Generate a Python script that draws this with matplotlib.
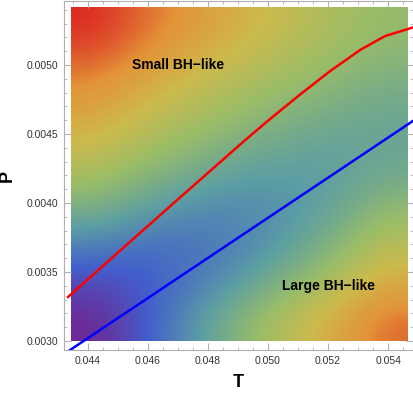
import numpy as np
import matplotlib
matplotlib.use("Agg")
from matplotlib import pyplot as plt
from matplotlib.colors import LinearSegmentedColormap
from matplotlib.ticker import MultipleLocator

plt.rcParams['font.family'] = ['Liberation Sans', 'DejaVu Sans']

# coexistence (red) and spinodal-like (blue) lines
red_T = [0.043333, 0.044400, 0.045733, 0.047067, 0.048067, 0.049200,
         0.050067, 0.051067, 0.052067, 0.053067, 0.053900, 0.054867]
red_P = [0.003319, 0.003525, 0.003783, 0.004040, 0.004232, 0.004449,
         0.004609, 0.004786, 0.004956, 0.005109, 0.005210, 0.005275]
blue_T = [0.04330, 0.05490]
blue_P = [0.002920, 0.004605]

# density field (0..1 in colour scale), rows from top (high P) to bottom
field = np.array([
    [1.00, 0.93, 0.86, 0.79, 0.72, 0.65, 0.59],
    [0.90, 0.83, 0.75, 0.68, 0.62, 0.56, 0.51],
    [0.80, 0.71, 0.63, 0.56, 0.50, 0.46, 0.44],
    [0.66, 0.56, 0.48, 0.41, 0.39, 0.40, 0.46],
    [0.44, 0.35, 0.30, 0.30, 0.36, 0.46, 0.62],
    [0.18, 0.18, 0.24, 0.34, 0.47, 0.62, 0.77],
    [0.03, 0.18, 0.37, 0.55, 0.70, 0.82, 0.93],
])
field_T = (0.04343, 0.05463)
field_P = (0.00300, 0.00542)

rainbow = LinearSegmentedColormap.from_list("rainbow_m", [
    (0.00, (0.47, 0.11, 0.53)),
    (0.20, (0.26, 0.37, 0.80)),
    (0.40, (0.36, 0.62, 0.64)),
    (0.60, (0.60, 0.74, 0.41)),
    (0.75, (0.80, 0.73, 0.30)),
    (0.88, (0.89, 0.58, 0.22)),
    (1.00, (0.86, 0.16, 0.14)),
])

fig = plt.figure(figsize=(4.14, 3.97), dpi=100)
ax = fig.add_axes([64/414, 47/397, 349/414, 349/397])

ax.imshow(field, cmap=rainbow, vmin=0, vmax=1, interpolation='bicubic',
          interpolation_stage='data',
          extent=[field_T[0], field_T[1], field_P[0], field_P[1]],
          aspect='auto', origin='upper')
ax.plot(red_T, red_P, color=(1, 0, 0), lw=1.8, clip_on=True)
ax.plot(blue_T, blue_P, color=(0, 0, 1), lw=1.8, clip_on=True)

ax.text(0.0470, 0.00500, "Small BH\u2212like", fontsize=10, fontweight='bold',
        ha='center', va='center')
ax.text(0.0520, 0.00340, "Large BH\u2212like", fontsize=10, fontweight='bold',
        ha='center', va='center')

ax.set_xlim(0.0432, 0.05483)
ax.set_ylim(0.002935, 0.005464)
ax.xaxis.set_major_locator(MultipleLocator(0.002))
ax.xaxis.set_minor_locator(MultipleLocator(0.0005))
ax.yaxis.set_major_locator(MultipleLocator(0.0005))
ax.yaxis.set_minor_locator(MultipleLocator(0.0001))
ax.xaxis.set_major_formatter(plt.FuncFormatter(lambda v, p: f"{v:.3f}"))
ax.yaxis.set_major_formatter(plt.FuncFormatter(lambda v, p: f"{v:.4f}"))
ax.tick_params(which='both', direction='in', top=True, right=True,
               color='#b0b0b0', labelsize=7.5, labelcolor='#333333')
ax.tick_params(which='major', length=5, width=0.8, pad=4)
ax.tick_params(which='minor', length=2.5, width=0.6)
for s in ax.spines.values():
    s.set_color('#b0b0b0')
    s.set_linewidth(0.8)

ax.set_xlabel("T", fontsize=13, fontweight='bold', labelpad=6)
ax.set_ylabel("P", fontsize=13, fontweight='bold', labelpad=8)

fig.savefig("out.png", dpi=100)
